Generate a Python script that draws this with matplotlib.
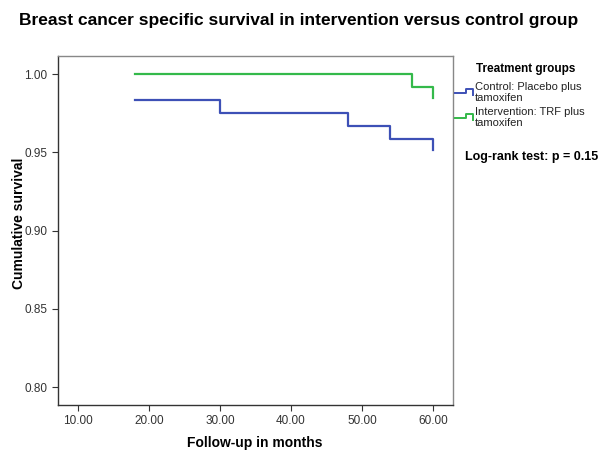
import matplotlib
matplotlib.use("Agg")
import matplotlib.pyplot as plt
from matplotlib.lines import Line2D

plt.rcParams['font.family'] = ['Liberation Sans', 'DejaVu Sans']

# Kaplan-Meier step data (months, survival)
control_t = [18, 30, 48, 54, 60]
control_s = [0.9833, 0.9750, 0.9667, 0.9583, 0.9515]
interv_t = [18, 57, 60]
interv_s = [1.0, 0.9917, 0.9845]

xticks = [10, 20, 30, 40, 50, 60]
yticks = [0.80, 0.85, 0.90, 0.95, 1.00]

group_labels = [['Control: Placebo plus', 'tamoxifen'],
                ['Intervention: TRF plus', 'tamoxifen']]

blue = '#3d50b6'
green = '#34b94a'

fig = plt.figure(figsize=(6, 4.58), dpi=100)
ax = fig.add_axes([0.0967, 0.1157, 0.6583, 0.762])

ax.step(control_t, control_s, where='post', color=blue, lw=1.6)
ax.step(interv_t, interv_s, where='post', color=green, lw=1.6)

ax.set_xlim(7.2, 62.8)
ax.set_ylim(0.7885, 1.0115)
ax.set_xticks(xticks)
ax.set_xticklabels(['%.2f' % v for v in xticks])
ax.set_yticks(yticks)
ax.set_yticklabels(['%.2f' % v for v in yticks])
ax.tick_params(labelsize=8.5, labelcolor='#333333', color='#333333', length=4, width=0.8)

for s in ['left', 'bottom']:
    ax.spines[s].set_color('#333333')
for s in ['top', 'right']:
    ax.spines[s].set_color('#888888')
for s in ax.spines.values():
    s.set_linewidth(1.0)

fig.text(0.497, 0.956, 'Breast cancer specific survival in intervention versus control group',
         ha='center', va='center', fontsize=12.5, fontweight='bold')
fig.text(0.032, 0.513, 'Cumulative survival', rotation=90, ha='center', va='center',
         fontsize=10, fontweight='bold')
fig.text(0.425, 0.033, 'Follow-up in months', ha='center', va='center',
         fontsize=10, fontweight='bold')

# legend, drawn by hand like SPSS
W, H = 600.0, 458.0
def fx(px):
    return px / W
def fy(py):
    return 1 - py / H

fig.text(fx(476), fy(69), 'Treatment groups', ha='left', va='center', fontsize=8.5, fontweight='bold')
for col, y0, lines in [(blue, 93, group_labels[0]), (green, 118, group_labels[1])]:
    xs = [455, 466, 466, 472.5, 472.5]
    ys = [y0, y0, y0 - 4.5, y0 - 4.5, y0 + 2]
    fig.add_artist(Line2D([fx(v) for v in xs], [fy(v) for v in ys], color=col, lw=1.4))
    fig.text(fx(475), fy(y0 - 6), lines[0], ha='left', va='center', fontsize=8, color='#222222')
    fig.text(fx(475), fy(y0 + 5), lines[1], ha='left', va='center', fontsize=8, color='#222222')
fig.text(fx(465), fy(157), 'Log-rank test: p = 0.15', ha='left', va='center',
         fontsize=9, fontweight='bold')

fig.savefig('out.png', dpi=100)
